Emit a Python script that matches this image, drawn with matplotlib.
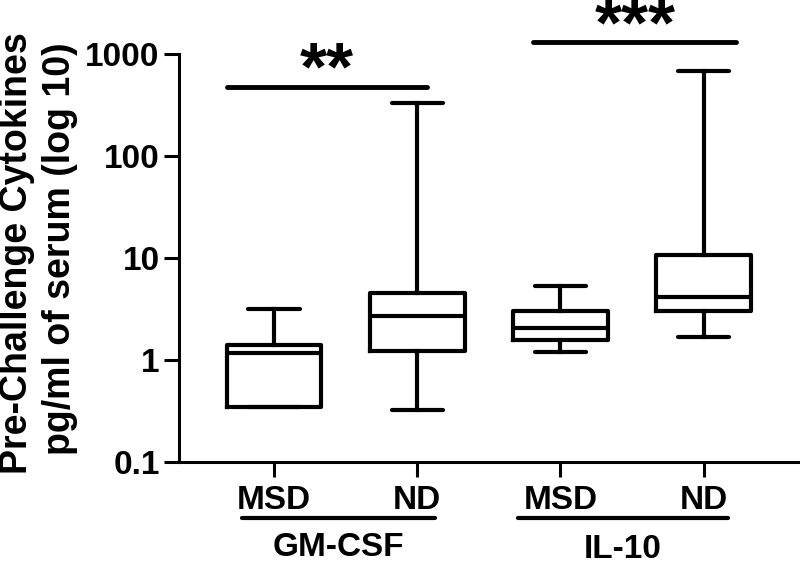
import matplotlib
matplotlib.use("Agg")
import matplotlib.pyplot as plt
from matplotlib.ticker import NullLocator
from matplotlib.transforms import blended_transform_factory

plt.rcParams['font.family'] = ['Liberation Sans', 'DejaVu Sans']
plt.rcParams['font.weight'] = 'bold'

# ---- data ----
box_labels = ["MSD", "ND", "MSD", "ND"]
groups = ["GM-CSF", "IL-10"]
whisker_low = [0.342, 0.322, 1.20, 1.69]
q1 = [0.342, 1.23, 1.57, 3.02]
medians = [1.17, 2.70, 2.07, 4.11]
q3 = [1.39, 4.50, 3.02, 10.7]
whisker_high = [3.13, 335, 5.31, 686]
sig_labels = ["**", "***"]
sig_levels = [481, 1312]
yticks = [0.1, 1, 10, 100, 1000]
ytick_labels = ["0.1", "1", "10", "100", "1000"]

fig = plt.figure(figsize=(8, 5.66), dpi=100)
ax = fig.add_axes([0.22375, 0.1843, 0.775, 0.7198])

stats = []
for i in range(len(box_labels)):
    stats.append(dict(whislo=whisker_low[i], q1=q1[i], med=medians[i],
                      q3=q3[i], whishi=whisker_high[i], fliers=[], label=box_labels[i]))

positions = [1, 2, 3, 4]
lw = 3
ax.bxp(stats, positions=positions, widths=0.66, showfliers=False,
       boxprops=dict(color='black', linewidth=lw),
       medianprops=dict(color='black', linewidth=lw),
       whiskerprops=dict(color='black', linewidth=lw),
       capprops=dict(color='black', linewidth=lw, solid_capstyle='round'),
       capwidths=0.36)

ax.set_yscale('log')
ax.set_ylim(0.1, 1000)
ax.set_xlim(0.335, 4.667)
ax.set_yticks(yticks)
ax.set_yticklabels(ytick_labels)
ax.yaxis.set_minor_locator(NullLocator())
ax.set_xticks(positions)
ax.set_xticklabels(box_labels)

for s in ['top', 'right']:
    ax.spines[s].set_visible(False)
for s in ['left', 'bottom']:
    ax.spines[s].set_linewidth(2.2)
ax.tick_params(axis='both', width=2.2, length=11, labelsize=24, colors='black')
ax.tick_params(axis='y', pad=3)
ax.tick_params(axis='x', pad=6)
for lab in ax.get_xticklabels() + ax.get_yticklabels():
    lab.set_fontweight('bold')

# significance bars
sig_x = [(0.671, 2.07), (2.811, 4.23)]
for (x0, x1), lvl, lab in zip(sig_x, sig_levels, sig_labels):
    ax.plot([x0, x1], [lvl, lvl], color='black', lw=3.5, solid_capstyle='round', clip_on=False)
    ax.annotate(lab, xy=((x0 + x1) / 2, lvl), xytext=(0, -3), textcoords='offset pixels',
                ha='center', va='baseline', fontsize=50, fontweight='bold',
                annotation_clip=False)

# group underlines and labels
trans = blended_transform_factory(ax.transData, ax.transAxes)
group_x = [(0.773, 2.124), (2.706, 4.169)]
group_label_y = [-0.2095, -0.2160]
for (x0, x1), g, gy in zip(group_x, groups, group_label_y):
    ax.plot([x0, x1], [-0.138, -0.138], transform=trans, color='black', lw=3,
            solid_capstyle='round', clip_on=False)
    ax.text((x0 + x1) / 2, gy, g, transform=trans, ha='center', va='center',
            fontsize=24, fontweight='bold')

fig.text(27 / 800, 1 - 253 / 566, "Pre-Challenge Cytokines", rotation=90,
         rotation_mode='anchor', ha='center', va='baseline', fontsize=27, fontweight='bold')
fig.text(70 / 800, 1 - 249 / 566, "pg/ml of serum (log 10)", rotation=90,
         rotation_mode='anchor', ha='center', va='baseline', fontsize=27, fontweight='bold')

fig.savefig("out.png", dpi=100)
